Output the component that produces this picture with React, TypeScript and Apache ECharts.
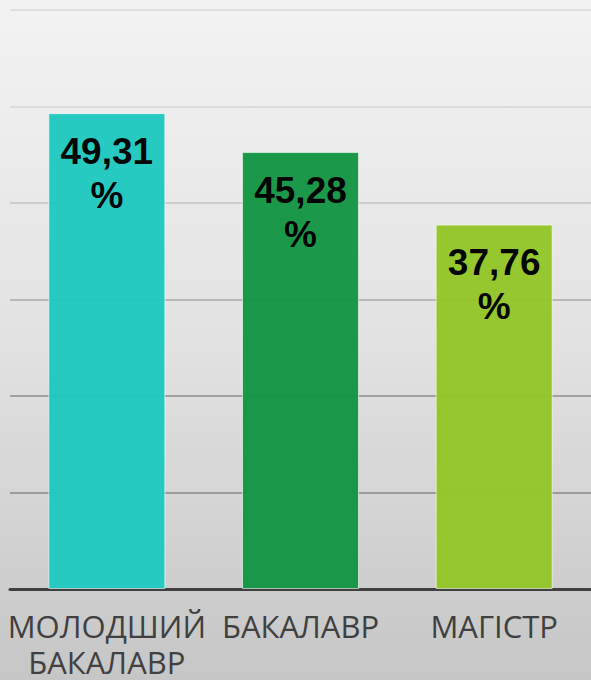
import React, { useEffect, useRef } from "react";
import * as echarts from "echarts";

const categories = ["МОЛОДШИЙ\nБАКАЛАВР", "БАКАЛАВР", "МАГІСТР"];
const values = [49.31, 45.28, 37.76];
const barColors = ["#20c8bf", "#159545", "#94c527"];
const yMin = 0;
const yMax = 60;
const yInterval = 10;
const gridColors = ["#555555", "#888888", "#8c8c8c", "#aaaaaa", "#c4c4c4", "#d4d4d4", "#d8d8d8"];

export default function App() {
  const ref = useRef<HTMLDivElement>(null);
  useEffect(() => {
    if (!ref.current) return;
    const chart = echarts.init(ref.current, null, { renderer: "svg" });
    chart.setOption({
      animation: false,
      backgroundColor: new echarts.graphic.LinearGradient(0, 0, 0, 1, [
        { offset: 0, color: "#f3f3f3" },
        { offset: 0.5, color: "#e2e2e2" },
        { offset: 1, color: "#c6c6c6" },
      ]),
      grid: { left: 10, right: 0, top: 10, bottom: 89, containLabel: false },
      xAxis: {
        type: "category",
        data: categories,
        axisLine: { show: true, lineStyle: { color: "#404040", width: 3 } },
        axisTick: { show: false },
        axisLabel: {
          interval: 0,
          margin: 19,
          color: "#404040",
          fontSize: 31,
          lineHeight: 36,
          fontFamily: "Open Sans",
        },
      },
      yAxis: {
        type: "value",
        min: yMin,
        max: yMax,
        interval: yInterval,
        axisLine: { show: false },
        axisTick: { show: false },
        axisLabel: { show: false },
        splitLine: { show: true, lineStyle: { color: gridColors, width: 1.5 } },
      },
      series: [
        {
          type: "bar",
          barWidth: 117,
          z: 1,
          data: values.map((v, i) => ({
            value: v,
            itemStyle: {
              color: barColors[i],
              opacity: 0.97,
              borderColor: "rgba(255,255,255,0.6)",
              borderWidth: 1,
            },
          })),
          label: {
            show: true,
            position: "insideTop",
            distance: 16,
            color: "#000000",
            fontWeight: "bold",
            fontSize: 37,
            lineHeight: 44,
            fontFamily: "Liberation Sans",
            formatter: (p: any) => p.value.toFixed(2).replace(".", ",") + "\n%",
          },
        },
      ],
    });
    return () => chart.dispose();
  }, []);
  return <div ref={ref} style={{ width: 591, height: 680, position: "absolute", left: 0, top: 0 }} />;
}
